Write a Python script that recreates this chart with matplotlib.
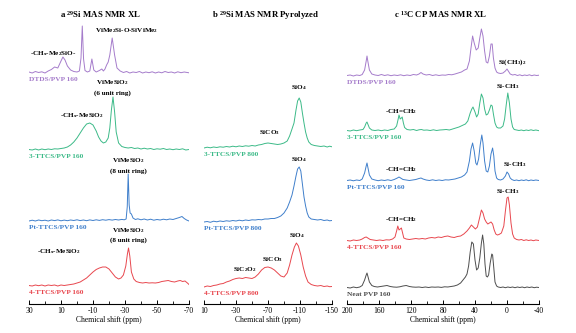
import matplotlib.pyplot as plt
from matplotlib.ticker import FixedLocator

plt.rcParams['font.family'] = 'Liberation Serif'
plt.rcParams['mathtext.fontset'] = 'custom'
plt.rcParams['mathtext.default'] = 'regular'
plt.rcParams['axes.unicode_minus'] = False

# colours of the samples
c_dtds = '#a57ccb'
c_3ttcs = '#3cba88'
c_pt = '#3f7fcb'
c_4ttcs = '#e8474e'
c_neat = '#4d4d4d'

# tick positions (ppm)
a_major = [30, 10, -10, -30, -50, -70]
a_minor = [20, 0, -20, -40, -60]
b_major = [10, -30, -70, -110, -150]
b_minor = [-10, -50, -90, -130]
c_major = [200, 160, 120, 80, 40, 0, -40]
c_minor = [180, 140, 100, 60, 20, -20]

# ---- a: 29Si MAS NMR, crosslinked (ppm, intensity) ----
a_dtds = [(30, 1), (28, 0), (26, 1.5), (24, 0.5), (22, 1.2), (20, 0), (18, 2), (16, 3.5), (14, 6), (12, 5),
          (10, 12), (8.8, 16), (7.5, 13), (6, 7), (4, 3), (2, 1.5), (0, 1), (-1.5, 2), (-2.5, 15), (-3.3, 47),
          (-4.1, 14), (-5, 2.5), (-6.5, 1), (-8, 2), (-9.3, 14), (-10.5, 3), (-12, 1), (-14, 2.5), (-15.5, 4),
          (-16.5, 2), (-17.5, 4), (-18.5, 8), (-19.5, 11), (-20.5, 18), (-22, 35), (-23.5, 18), (-25, 5),
          (-27, 2), (-29, 0.5), (-31, 1.5), (-33, 0), (-35, 1), (-37, 0.5), (-39, 1.5), (-41, 0), (-43, 1),
          (-45, 0.3), (-47, 1.2), (-49, 0), (-51, 1), (-53, 0.2), (-55, 1.5), (-57, 0.5), (-59, 1), (-61, 0),
          (-63, 1.2), (-65, 0.3), (-67, 1), (-70, 0.2)]
a_3ttcs = [(30, 0.5), (28, 0), (26, 1), (24, 0), (22, 1), (20, 0.3), (18, 1), (16, 0.5), (14, 1.2), (12, 1),
           (10, 1.5), (8, 2), (6, 3), (4, 5), (2, 8), (0, 12), (-2, 17), (-4, 22), (-6, 26), (-8, 27),
           (-10, 25), (-12, 19), (-13.5, 13), (-15, 9), (-16.5, 7), (-18, 8), (-19.5, 12), (-20.5, 22),
           (-21.5, 40), (-22.5, 53), (-23.5, 38), (-24.5, 18), (-26, 7), (-28, 3.5), (-30, 2.5), (-32, 2),
           (-34, 2.5), (-36, 1.5), (-38, 2), (-40, 1), (-42, 1.8), (-44, 1), (-46, 1.5), (-48, 0.5),
           (-50, 1.2), (-52, 0.8), (-54, 1.5), (-56, 0.5), (-58, 1), (-60, 0.3), (-62, 1), (-64, 0.5),
           (-66, 1.2), (-68, 0), (-70, 0.5)]
a_pt = [(30, 0), (28, 0.8), (26, 0), (24, 1), (22, 0.3), (20, 0.8), (18, 0), (16, 1), (14, 0.4), (12, 1.1),
        (10, 0.2), (8, 0.9), (6, 0.3), (4, 1), (2, 0.5), (0, 1.2), (-2, 0.4), (-4, 1), (-6, 0.3), (-8, 1.1),
        (-10, 0.5), (-12, 1.2), (-14, 0.6), (-16, 1.3), (-18, 0.8), (-20, 1.4), (-22, 0.9), (-24, 1.5),
        (-26, 1), (-28, 1.6), (-29.5, 1.2), (-30.7, 2), (-31.4, 14), (-32, 47), (-32.6, 16), (-33.2, 8),
        (-34, 7), (-35, 3), (-36.5, 1.5), (-38, 2.2), (-40, 1.2), (-42, 2), (-44, 1), (-46, 1.8),
        (-48, 0.8), (-50, 1.5), (-52, 1), (-54, 1.8), (-56, 1.2), (-58, 2), (-60, 1.5), (-62, 2.5),
        (-64, 3.5), (-65.6, 4.5), (-67, 2.5), (-68.5, 1), (-70, 0)]
a_4ttcs = [(30, 0.5), (28, 0), (26, 1), (24, 0.3), (22, 1), (20, 0), (18, 1), (16, 0.5), (14, 1), (12, 0),
           (10, 1), (8, 0.5), (6, 1), (4, 1.5), (2, 2), (0, 3), (-2, 4), (-4, 6), (-6, 8), (-8, 11),
           (-10, 14), (-12, 16.5), (-14, 18), (-16, 19), (-18, 19), (-20, 17), (-22, 13), (-24, 9), (-26, 7),
           (-27.5, 8), (-29, 11), (-30.5, 20), (-31.5, 32), (-32.2, 38), (-33, 30), (-34, 14), (-35.5, 7),
           (-37, 4.5), (-39, 3.5), (-41, 3), (-43, 3.5), (-45, 3), (-47, 3.2), (-49, 3), (-51, 3.5),
           (-53, 4.5), (-55, 5), (-57, 5.5), (-59, 4.5), (-61, 4), (-63, 5), (-64.5, 5.5), (-66, 4.5),
           (-67.5, 5), (-69, 3), (-70, 1.5)]

# ---- b: 29Si MAS NMR, pyrolyzed ----
b_3ttcs = [(10, 0), (6, 0.8), (2, 0.2), (-2, 1), (-6, 0.5), (-10, 1.2), (-14, 0.8), (-18, 1.5), (-22, 1),
           (-26, 1.8), (-30, 1.2), (-34, 2), (-38, 1.5), (-42, 2.2), (-46, 1.8), (-50, 2.5), (-54, 2),
           (-58, 3), (-62, 3.5), (-66, 4.5), (-70, 5), (-74, 4.5), (-78, 4), (-82, 3.5), (-86, 4),
           (-90, 5), (-94, 7), (-97, 12), (-100, 19), (-102.5, 25), (-105, 38), (-107, 47), (-109, 50),
           (-111, 46), (-113, 35), (-115, 25), (-117, 16), (-119, 10), (-121, 6), (-124, 3.5), (-128, 2.5),
           (-132, 2), (-136, 1.5), (-140, 2), (-144, 1), (-147, 1.8), (-150, 1.2)]
b_pt = [(10, 0), (6, 0.5), (2, -0.3), (-2, 0.8), (-6, 0.2), (-10, 1), (-14, 0.5), (-18, 1.2), (-22, 0.8),
        (-26, 1.5), (-30, 1), (-34, 1.8), (-38, 1.2), (-42, 2), (-46, 1.5), (-50, 2.2), (-54, 2), (-58, 2.5),
        (-62, 2.2), (-66, 3), (-70, 3), (-74, 3.5), (-78, 3.5), (-82, 4.5), (-86, 6), (-90, 9), (-94, 14),
        (-97, 20), (-100, 27), (-102.5, 36), (-105, 46), (-107, 53), (-109, 55), (-111, 51), (-113, 38),
        (-115, 25), (-117, 16), (-119, 9), (-121, 5), (-124, 3), (-128, 2.5), (-132, 2), (-136, 2.5),
        (-140, 1.5), (-144, 2), (-147, 1.2), (-150, 1.5)]
b_4ttcs = [(10, 0), (6, 1), (2, 0.5), (-2, 1.5), (-6, 2), (-10, 3), (-14, 3.5), (-18, 5), (-22, 6),
           (-26, 7.5), (-30, 8.5), (-34, 9), (-38, 8.5), (-42, 9.5), (-46, 9), (-50, 8.5), (-54, 10),
           (-58, 13), (-62, 17), (-66, 19.5), (-70, 20), (-74, 19), (-78, 17), (-82, 14), (-86, 11),
           (-90, 10), (-94, 14), (-97, 22), (-100, 32), (-103, 40), (-105.5, 44), (-108, 41), (-111, 32),
           (-114, 20), (-117, 11), (-120, 5), (-124, 2.5), (-128, 1.5), (-132, 1), (-136, 1.5), (-140, 0.5),
           (-144, 1), (-147, 0.3), (-150, 0.5)]

# ---- c: 13C CP MAS NMR, crosslinked ----
c_dtds_pts = [(200, 0.5), (196, 1), (192, 0), (188, 1), (184, 0.5), (181, 1.5), (178, 6), (176, 15), (175, 20),
              (174, 15), (172, 6), (169, 2), (165, 1), (161, 0.5), (157, 1.5), (153, 0.5), (149, 1.2),
              (145, 0.3), (141, 1), (137, 0.5), (133, 1.2), (129, 0.3), (125, 1), (121, 0.5), (117, 1.5),
              (113, 1), (110, 2), (107.5, 3.5), (105, 2), (101, 1), (97, 1.5), (93, 0.5), (89, 1.2), (85, 0.5),
              (81, 1), (77, 0.8), (73, 1.5), (69, 1.2), (65, 2), (61, 3), (57, 4), (53, 6), (50, 7), (47, 15),
              (45, 28), (43, 40), (41, 33), (38.5, 26), (36, 28), (34, 38), (32, 47), (30, 40), (28, 25),
              (26, 14), (24, 13), (22, 20), (20, 32), (18.5, 32), (17, 18), (15, 8), (13, 4), (11, 3), (8, 2.5),
              (5, 3), (2, 5), (0, 7), (-2, 4.5), (-4, 2), (-7, 1), (-10, 1.5), (-13, 0.5), (-16, 1.2),
              (-19, 0.3), (-22, 1), (-25, 0.5), (-28, 1.2), (-31, 0.3), (-34, 1), (-37, 0.5), (-40, 0.8)]
c_3ttcs_pts = [(200, 0.5), (196, 0), (192, 1), (188, 0.3), (184, 1), (180, 1.5), (178, 4), (176, 8), (175, 9),
               (174, 7), (172, 3), (169, 1), (165, 0.5), (161, 1), (157, 0.3), (153, 1), (149, 0.5), (145, 1.5),
               (141, 2), (138, 5), (136, 12), (135, 16), (133.5, 12), (132, 13), (131, 14), (129.5, 8),
               (128, 3.5), (125, 1.5), (121, 1), (117, 1.5), (113, 0.5), (110, 1.2), (107, 1.5), (104, 0.8),
               (100, 1), (96, 0.5), (92, 1.2), (88, 0.5), (84, 1), (80, 1.2), (76, 1.5), (72, 1), (68, 2),
               (64, 3), (60, 4), (56, 5.5), (52, 7), (49, 10), (46, 18), (44, 22), (42.5, 24), (40, 19),
               (38, 14), (36, 17), (34, 28), (32, 37), (30, 33), (28, 22), (26, 16), (24, 17), (22, 21),
               (20, 26), (18.5, 25), (17, 17), (15, 8), (13, 4), (11, 3), (8, 3), (5, 5), (3, 12), (1, 26),
               (-1, 38), (-3, 28), (-5, 12), (-7, 4), (-9, 1.5), (-12, 1), (-15, 0.5), (-18, 1), (-21, 0.3),
               (-24, 1), (-27, 0.5), (-30, 1.2), (-33, 0.5), (-36, 1), (-40, 0.3)]
c_pt_pts = [(200, 0.5), (196, 1), (192, 0.2), (188, 1), (184, 0.5), (181, 2), (178, 8), (176, 15), (175, 18),
            (174, 14), (172, 6), (169, 2), (165, 1), (161, 0.3), (157, 1), (153, 0.5), (149, 1.2), (145, 0.5),
            (141, 1.5), (137, 3), (135, 4), (133, 3), (130, 1.5), (126, 1), (122, 0.5), (118, 1), (114, 1.5),
            (110, 2.5), (107.5, 3), (105, 2), (101, 1), (97, 0.5), (93, 1.2), (89, 0.5), (85, 1), (81, 0.5),
            (77, 1.2), (73, 1), (69, 1.5), (65, 2), (61, 3), (57, 4), (53, 6), (50, 9), (47, 20), (45, 32),
            (43, 38), (41, 30), (39, 18), (37.5, 16), (35.5, 22), (33.5, 36), (31.5, 46), (30, 38), (28, 20),
            (26, 10), (24, 9), (22, 15), (20, 27), (18, 33), (16.5, 25), (15, 10), (13, 3), (11, 1.5), (8, 1),
            (5, 2), (2, 5), (0, 9), (-2, 7), (-4, 3), (-6, 1.5), (-9, 0.5), (-12, 1), (-15, 0.3), (-18, 1),
            (-21, 0.5), (-24, 1.2), (-27, 0.3), (-30, 1), (-33, 0.5), (-36, 1), (-40, 0.5)]
c_4ttcs_pts = [(200, 0.5), (196, 0), (192, 1), (188, 0.5), (184, 1), (181, 2), (178, 3.5), (176, 4), (174, 3),
               (171, 1.5), (167, 1), (163, 0.5), (159, 1), (155, 0.5), (151, 1.2), (147, 1), (143, 2), (140, 4),
               (138, 10), (136.5, 15), (135, 11), (133.5, 12), (132, 13), (130.5, 8), (129, 3), (126, 2),
               (122, 1.5), (118, 2), (114, 2.5), (110, 2), (106, 2.5), (102, 2), (98, 3), (94, 3.5), (90, 3),
               (86, 4), (82, 3.5), (78, 4.5), (74, 5), (70, 4), (66, 3.5), (62, 4.5), (58, 5), (54, 7),
               (50, 10), (47, 13), (44.5, 16), (42, 14), (39.5, 12), (37, 14), (34, 24), (32, 31), (30, 28),
               (28, 22), (26, 19), (24, 17), (22, 18), (20, 19), (18, 17), (16, 11), (14, 7), (12, 6),
               (10, 6.5), (7, 8), (4, 15), (2, 30), (0, 43), (-1.5, 44), (-3, 36), (-5, 18), (-7, 7), (-9, 3),
               (-12, 1.5), (-15, 1), (-18, 1.5), (-21, 0.5), (-24, 1.2), (-27, 0.5), (-30, 1), (-33, 0.3),
               (-36, 1), (-40, 0.5)]
c_neat_pts = [(200, 0.5), (196, 0), (192, 1), (188, 0.3), (184, 1), (181, 2.5), (178, 8), (176, 13), (175, 15),
              (174, 12), (172, 6), (169, 2.5), (166, 1.5), (162, 1), (158, 1.5), (154, 2), (150, 2.5),
              (146, 1.5), (142, 1), (138, 0.8), (134, 1.2), (130, 2), (126, 2.5), (122, 1.5), (118, 1),
              (114, 0.8), (110, 1), (106, 0.5), (102, 1), (98, 0.5), (94, 1), (90, 0.8), (86, 1), (82, 0.6),
              (78, 1.2), (74, 1), (70, 1.5), (66, 2), (62, 3), (58, 5), (55, 8), (52, 11), (50, 14), (48, 22),
              (46, 36), (44, 46), (42, 44), (40, 28), (38, 18), (36, 20), (34, 30), (32, 45), (30.5, 53),
              (29, 44), (27.5, 24), (26, 12), (24.5, 11), (23, 13), (21, 25), (19, 34), (18, 33), (16.5, 20),
              (15, 6), (13, 2), (11, 1), (8, 0.5), (5, 1), (2, 0.3), (-1, 1), (-4, 0.5), (-7, 1), (-10, 0.3),
              (-13, 1), (-16, 0.5), (-19, 1), (-22, 0.3), (-25, 1), (-28, 0.5), (-31, 1), (-34, 0.3),
              (-37, 0.8), (-40, 0.5)]

# stacking offsets of each trace
a_offsets = [231, 154, 83, 18]
b_offsets = [156, 82, 17]
c_offsets = [228, 173, 123, 63, 16]

W, H = 576, 333
fig = plt.figure(figsize=(W / 100, H / 100), dpi=100)


def make_axes(x0, x1, xlim, major, minor):
    # pixel box -> figure fraction, bottom spine at y=304 px, top at 20 px
    ax = fig.add_axes([x0 / W, (H - 304) / H, (x1 - x0) / W, (304 - 20) / H])
    ax.set_xlim(*xlim)
    ax.set_ylim(0, 284)
    for s in ['left', 'right', 'top']:
        ax.spines[s].set_visible(False)
    ax.spines['bottom'].set_linewidth(0.8)
    ax.set_yticks([])
    ax.xaxis.set_major_locator(FixedLocator(major))
    ax.xaxis.set_minor_locator(FixedLocator(minor))
    ax.set_xticklabels([str(t) for t in major])
    ax.tick_params(axis='x', which='major', direction='in', length=3, width=0.7, labelsize=5.5, pad=2)
    ax.tick_params(axis='x', which='minor', direction='in', length=2, width=0.6)
    ax.set_xlabel('Chemical shift (ppm)', fontsize=5.5, labelpad=1)
    ax.patch.set_alpha(0)
    return ax


def trace(ax, pts, off, color, name):
    x, y = zip(*pts)
    ax.plot(x, [v + off for v in y], color=color, lw=0.7)
    ax.text(ax.get_xlim()[0], off - 4, name, color=color, fontsize=5.3, fontweight='bold',
            ha='left', va='top')


def note(ax, x, y, s, size=5.1):
    ax.text(x, y, s, fontsize=size, fontweight='bold', ha='center', va='center')


ax_a = make_axes(29, 189, (30, -70), a_major, a_minor)
ax_b = make_axes(204, 332, (10, -150), b_major, b_minor)
ax_c = make_axes(347, 539, (200, -40), c_major, c_minor)

for pts, off, col, name in zip([a_dtds, a_3ttcs, a_pt, a_4ttcs], a_offsets,
                               [c_dtds, c_3ttcs, c_pt, c_4ttcs],
                               ['DTDS/PVP 160', '3-TTCS/PVP 160', 'Pt-TTCS/PVP 160', '4-TTCS/PVP 160']):
    trace(ax_a, pts, off, col, name)

for pts, off, col, name in zip([b_3ttcs, b_pt, b_4ttcs], b_offsets, [c_3ttcs, c_pt, c_4ttcs],
                               ['3-TTCS/PVP 800', 'Pt-TTCS/PVP 800', '4-TTCS/PVP 800']):
    trace(ax_b, pts, off, col, name)

for pts, off, col, name in zip([c_dtds_pts, c_3ttcs_pts, c_pt_pts, c_4ttcs_pts, c_neat_pts], c_offsets,
                               [c_dtds, c_3ttcs, c_pt, c_4ttcs, c_neat],
                               ['DTDS/PVP 160', '3-TTCS/PVP 160', 'Pt-TTCS/PVP 160', '4-TTCS/PVP 160',
                                'Neat PVP 160']):
    trace(ax_c, pts, off, col, name)

# peak assignments, panel a
note(ax_a, 15, 250, '-CH$_x$-Me$_2$SiO-')
note(ax_a, -31, 273, 'ViMe$_2$Si-O-SiViMe$_2$')
note(ax_a, -22, 221, 'ViMeSiO$_2$')
note(ax_a, -22, 211, '(6 unit ring)')
note(ax_a, -3, 188, '-CH$_x$-MeSiO$_2$')
note(ax_a, -32, 143, 'ViMeSiO$_2$')
note(ax_a, -32, 133, '(8 unit ring)')
note(ax_a, -32, 73, 'ViMeSiO$_2$')
note(ax_a, -32, 64, '(8 unit ring)')
note(ax_a, 11, 52, '-CH$_x$-MeSiO$_2$')

# panel b
note(ax_b, -109, 216, 'SiO$_4$')
note(ax_b, -72, 171, 'SiCO$_3$')
note(ax_b, -109, 144, 'SiO$_4$')
note(ax_b, -106, 68, 'SiO$_4$')
note(ax_b, -75, 44, 'SiCO$_3$')
note(ax_b, -41, 34, 'SiC$_2$O$_2$')

# panel c
note(ax_c, -6, 242, 'Si(CH$_3$)$_2$')
note(ax_c, -1, 217, 'Si-CH$_3$')
note(ax_c, 133, 192, '-CH=CH$_2$')
note(ax_c, -9, 139, 'Si-CH$_3$')
note(ax_c, 133, 134, '-CH=CH$_2$')
note(ax_c, -1, 112, 'Si-CH$_3$')
note(ax_c, 133, 84, '-CH=CH$_2$')

# panel titles
title_kw = dict(fontsize=6.3, fontweight='bold', ha='center', va='center')
fig.text(100 / W, 1 - 15 / H, 'a $^{29}$Si MAS NMR XL', **title_kw)
fig.text(266 / W, 1 - 15 / H, 'b $^{29}$Si MAS NMR Pyrolyzed', **title_kw)
fig.text(441 / W, 1 - 15 / H, 'c $^{13}$C CP MAS NMR XL', **title_kw)

fig.savefig('out.png', dpi=100, facecolor='white')
